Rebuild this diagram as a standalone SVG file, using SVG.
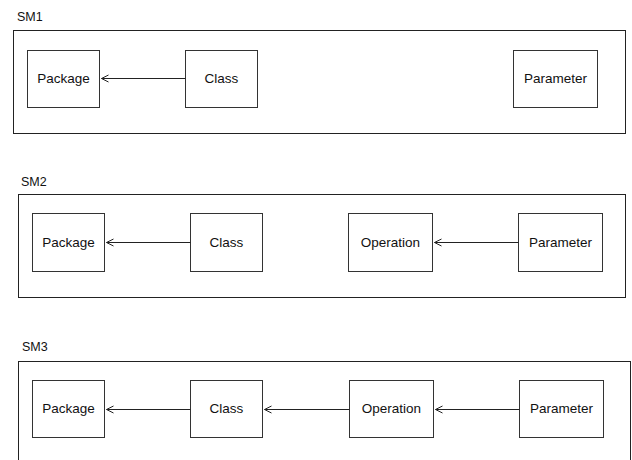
<svg xmlns="http://www.w3.org/2000/svg" width="632" height="460" viewBox="0 0 632 460">
<defs>
<marker id="open" markerWidth="10" markerHeight="10" refX="9" refY="5" orient="auto" markerUnits="userSpaceOnUse">
<path d="M2,1.5 L9,5 L2,8.5" fill="none" stroke="#222" stroke-width="1"/>
</marker>
</defs>
<style>
.frame{fill:none;stroke:#222;stroke-width:1}
.box{fill:#fff;stroke:#333;stroke-width:1}
.t{font-family:"Liberation Sans",Arial,sans-serif;font-size:13.5px;fill:#111;text-anchor:middle}
.lbl{font-family:"Liberation Sans",Arial,sans-serif;font-size:12.5px;fill:#111}
.conn{stroke:#222;stroke-width:1;fill:none;marker-end:url(#open)}
</style>
<rect width="632" height="460" fill="#fff"/>

<g id="sm1">
<text class="lbl" x="17" y="21">SM1</text>
<rect class="frame" x="13.5" y="30.5" width="612" height="103"/>
</g>
<g id="sm2">
<text class="lbl" x="21" y="186">SM2</text>
<rect class="frame" x="18.5" y="194.5" width="607" height="103"/>
</g>
<g id="sm3">
<text class="lbl" x="22" y="351">SM3</text>
<rect class="frame" x="18.5" y="361.5" width="612" height="110"/>
</g>

<g id="sm1-package"><rect class="box" x="27.5" y="50.5" width="72" height="57"/><text class="t" x="63.5" y="83">Package</text></g>
<g id="sm1-class"><rect class="box" x="185.5" y="50.5" width="72" height="57"/><text class="t" x="221.5" y="83">Class</text></g>
<g id="sm1-parameter"><rect class="box" x="513.5" y="50.5" width="84" height="57"/><text class="t" x="555.5" y="83">Parameter</text></g>

<g id="sm2-package"><rect class="box" x="32.5" y="213.5" width="72" height="58"/><text class="t" x="68.5" y="247">Package</text></g>
<g id="sm2-class"><rect class="box" x="190.5" y="213.5" width="72" height="58"/><text class="t" x="226.5" y="247">Class</text></g>
<g id="sm2-operation"><rect class="box" x="348.5" y="213.5" width="84" height="58"/><text class="t" x="390.5" y="247">Operation</text></g>
<g id="sm2-parameter"><rect class="box" x="518.5" y="213.5" width="84" height="58"/><text class="t" x="560.5" y="247">Parameter</text></g>

<g id="sm3-package"><rect class="box" x="32.5" y="380.5" width="72" height="57"/><text class="t" x="68.5" y="413">Package</text></g>
<g id="sm3-class"><rect class="box" x="190.5" y="380.5" width="72" height="57"/><text class="t" x="226.5" y="413">Class</text></g>
<g id="sm3-operation"><rect class="box" x="349.5" y="380.5" width="84" height="57"/><text class="t" x="391.5" y="413">Operation</text></g>
<g id="sm3-parameter"><rect class="box" x="519.5" y="380.5" width="84" height="57"/><text class="t" x="561.5" y="413">Parameter</text></g>

<g id="connectors">
<line class="conn" x1="185.5" y1="78.5" x2="101.5" y2="78.5"/>
<line class="conn" x1="190.5" y1="242.5" x2="106.5" y2="242.5"/>
<line class="conn" x1="518.5" y1="242.5" x2="434.5" y2="242.5"/>
<line class="conn" x1="190.5" y1="409.5" x2="106.5" y2="409.5"/>
<line class="conn" x1="349.5" y1="409.5" x2="264.5" y2="409.5"/>
<line class="conn" x1="519.5" y1="409.5" x2="435.5" y2="409.5"/>
</g>
</svg>
